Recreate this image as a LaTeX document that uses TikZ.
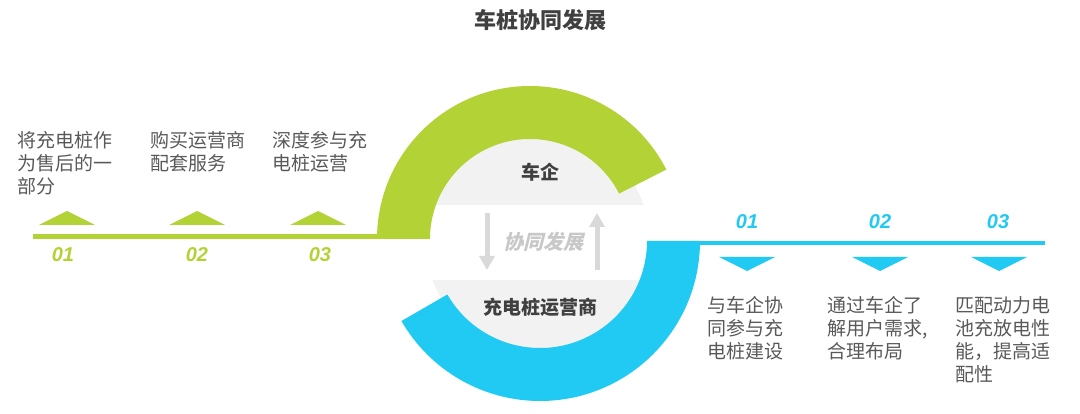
\documentclass[tikz,border=0pt]{standalone}
\usepackage{fontspec}
\newfontfamily\cjk{Noto Sans CJK SC}
\newfontfamily\cjkslant[FakeSlant=0.25]{Noto Sans CJK SC}
\newfontfamily\numfont{Liberation Sans}
\usetikzlibrary{calc, arrows.meta}
\definecolor{carcolor}{RGB}{179,210,53}
\definecolor{pilecolor}{RGB}{33,202,242}
\definecolor{circgray}{RGB}{242,242,242}
\definecolor{arrowgray}{RGB}{217,217,217}
\definecolor{textgray}{RGB}{89,89,89}
\definecolor{labelgray}{RGB}{64,64,64}
\tikzset{
  desc/.style={anchor=north west, inner sep=0pt, align=left, text=textgray,
    font=\cjk\fontsize{19}{23}\selectfont},
  num/.style={inner sep=0pt, font=\numfont\bfseries\itshape\fontsize{20}{20}\selectfont},
  label/.style={inner sep=0pt, text=labelgray, font=\cjk\bfseries\fontsize{19}{19}\selectfont}
}

\begin{document}
\begin{tikzpicture}[x=1pt, y=1pt, >=latex]
    \def\Rg{153pt}
    \def\rg{100pt}
    \def\Rb{160pt}
    \def\rb{107pt}
    \def\endg{27}
    \def\endb{-150}

    \useasboundingbox (0,0) rectangle (1080,413);

    \coordinate (G) at (530,174);
    \coordinate (B) at (540,172);
    \coordinate (C) at (537,173);

    \fill[circgray] (C) circle (112pt);
    \fill[white] (420,133) rectangle (660,208);

    \fill[carcolor] (33,174) rectangle (400,178.5);
    \fill[pilecolor] (680,168) rectangle (1045,172);

    \fill[carcolor] ([shift={(180:\Rg)}]G) arc[start angle=180, end angle=\endg, radius=\Rg]
        -- ([shift={(\endg:\rg)}]G) arc[start angle=\endg, end angle=180, radius=\rg] -- cycle;
    \fill[pilecolor] ([shift={(0:\Rb)}]B) arc[start angle=0, end angle=\endb, radius=\Rb]
        -- ([shift={(\endb:\rb)}]B) arc[start angle=\endb, end angle=0, radius=\rb] -- cycle;

    \fill[carcolor] (39,188) -- (67,202) -- (95,188) -- cycle;
    \fill[carcolor] (169,188) -- (197,202) -- (225,188) -- cycle;
    \fill[carcolor] (290,188) -- (318,202) -- (346,188) -- cycle;

    \fill[pilecolor] (719,156) -- (747,142) -- (775,156) -- cycle;
    \fill[pilecolor] (852,156) -- (880,142) -- (908,156) -- cycle;
    \fill[pilecolor] (971,156) -- (999,142) -- (1027,156) -- cycle;

    \coordinate (downtop) at (487,200);
    \coordinate (downend) at (487,143);
    \coordinate (uptop) at (597,200);
    \coordinate (upend) at (597,143);
    \draw[arrowgray, line width=5pt, -{Triangle[width=15pt, length=14pt]}] (downtop) -- (downend);
    \draw[arrowgray, line width=5pt, -{Triangle[width=15pt, length=14pt]}] (upend) -- (uptop);

    \node[font=\cjk\bfseries\fontsize{22}{22}\selectfont, text=labelgray] (title) at (540,393) {车桩协同发展};
    \node[label] (carco) at (540,241) {车企};
    \node[label] (operator) at (540,106) {充电桩运营商};
    \node[font=\cjkslant\bfseries\fontsize{20}{20}\selectfont, text={rgb,255:red,200;green,200;blue,200}] (coop) at (543,171) {协同发展};

    \node[num, text=carcolor] (lnum1) at (63,158) {01};
    \node[num, text=carcolor] (lnum2) at (197,158) {02};
    \node[num, text=carcolor] (lnum3) at (320,158) {03};
    \node[num, text=pilecolor] (rnum1) at (747,191) {01};
    \node[num, text=pilecolor] (rnum2) at (880,191) {02};
    \node[num, text=pilecolor] (rnum3) at (998,191) {03};

    \node[desc] (ltext1) at (17,282) {将充电桩作\\为售后的一\\部分};
    \node[desc] (ltext2) at (150,282) {购买运营商\\配套服务};
    \node[desc] (ltext3) at (272,282) {深度参与充\\电桩运营};
    \node[desc] (rtext1) at (707,117) {与车企协\\同参与充\\电桩建设};
    \node[desc] (rtext2) at (827,117) {通过车企了\\解用户需求,\\合理布局};
    \node[desc] (rtext3) at (955,117) {匹配动力电\\池充放电性\\能，提高适\\配性};
\end{tikzpicture}
\end{document}
